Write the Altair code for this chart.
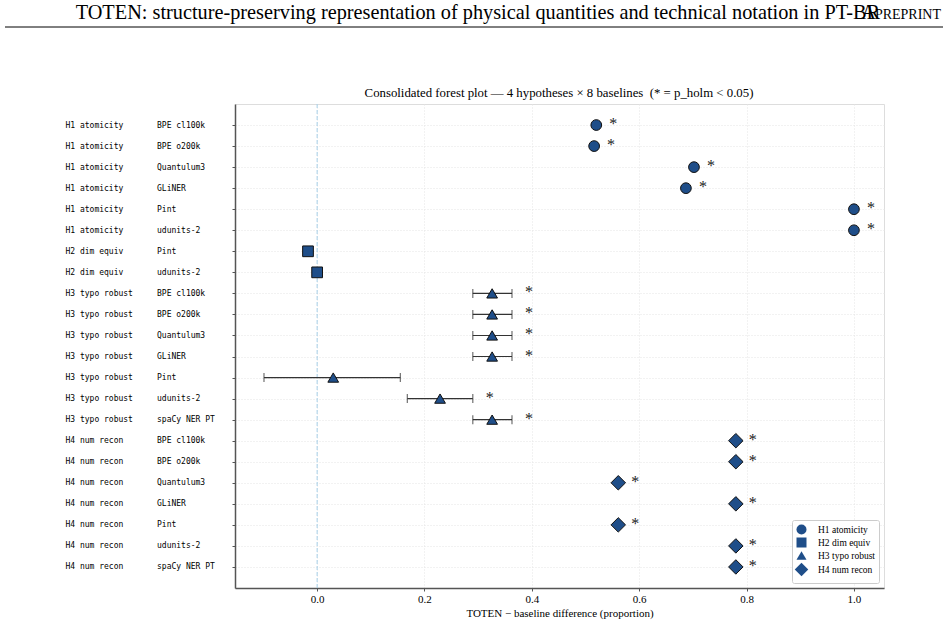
import altair as alt
import pandas as pd

hyp_names = ["H1 atomicity", "H2 dim equiv", "H3 typo robust", "H4 num recon"]

hypothesis = (["H1 atomicity"] * 6 + ["H2 dim equiv"] * 2 +
              ["H3 typo robust"] * 7 + ["H4 num recon"] * 7)
baseline = ["BPE cl100k", "BPE o200k", "Quantulum3", "GLiNER", "Pint", "udunits-2",
            "Pint", "udunits-2",
            "BPE cl100k", "BPE o200k", "Quantulum3", "GLiNER", "Pint", "udunits-2", "spaCy NER PT",
            "BPE cl100k", "BPE o200k", "Quantulum3", "GLiNER", "Pint", "udunits-2", "spaCy NER PT"]
estimate = [0.520, 0.516, 0.702, 0.687, 1.000, 1.000,
            -0.017, 0.000,
            0.326, 0.326, 0.326, 0.326, 0.030, 0.229, 0.326,
            0.780, 0.780, 0.561, 0.780, 0.561, 0.780, 0.780]
ci_low = [None] * 8 + [0.290, 0.290, 0.290, 0.290, -0.099, 0.168, 0.290] + [None] * 7
ci_high = [None] * 8 + [0.363, 0.363, 0.363, 0.363, 0.155, 0.290, 0.363] + [None] * 7
significant = [True] * 6 + [False] * 2 + [True, True, True, True, False, True, True] + [True] * 7

NB = "\u00a0"
labels = [h + NB * (19 - len(h)) + b for h, b in zip(hypothesis, baseline)]

df = pd.DataFrame({
    "hyp": hypothesis, "baseline": baseline, "label": labels,
    "est": estimate, "lo": ci_low, "hi": ci_high, "sig": significant,
})
df["star_x"] = [h if h is not None and not pd.isna(h) else e for h, e in zip(df["hi"], df["est"])]

W, H = 649, 484
PL, PT = 235, 104
SERIF = "Liberation Serif"
MARK = "#1f4e89"
BIG_DIAMOND = "M-1.35,0L0,-1.35L1.35,0L0,1.35Z"

xscale = alt.Scale(domain=[-0.153, 1.056], nice=False, zero=False)
yenc = alt.Y("label:N", sort=labels, scale=alt.Scale(type="point", padding=1),
             axis=alt.Axis(title=None, labelFont="DejaVu Sans Mono", labelFontSize=8,
                           labelColor="black", labelAlign="left", labelPadding=167,
                           tickSize=3, tickColor="#555", domainColor="#555", domainWidth=1.5,
                           grid=True, gridColor="#e4e4e4", gridDash=[1, 2], gridWidth=1))
xenc = alt.X("est:Q", scale=xscale,
             axis=alt.Axis(title="TOTEN \u2212 baseline difference (proportion)",
                           values=[0, 0.2, 0.4, 0.6, 0.8, 1.0], format=".1f",
                           labelFont=SERIF, labelFontSize=11, labelColor="black",
                           titleFont=SERIF, titleFontSize=11, titleFontWeight="normal",
                           titleColor="black", titlePadding=3, tickSize=3, tickColor="#555",
                           domainColor="#555", domainWidth=1.5,
                           grid=True, gridColor="#e4e4e4", gridDash=[1, 2], gridWidth=1))

base = alt.Chart(df)

zero = alt.Chart(pd.DataFrame({"z": [0.0]})).mark_rule(
    color="#a6cfe8", strokeDash=[4, 2], strokeWidth=1).encode(x=alt.X("z:Q", scale=xscale))

ci = base.transform_filter("isValid(datum.lo)")
ci_rule = ci.mark_rule(color="#333333", strokeWidth=1.2).encode(
    x=alt.X("lo:Q", scale=xscale), x2="hi:Q", y=yenc)
cap_lo = ci.mark_tick(color="#333333", thickness=1.2, size=9).encode(
    x=alt.X("lo:Q", scale=xscale), y=yenc)
cap_hi = ci.mark_tick(color="#333333", thickness=1.2, size=9).encode(
    x=alt.X("hi:Q", scale=xscale), y=yenc)

points = base.mark_point(filled=True, fill=MARK, stroke="#111111", strokeWidth=1,
                         opacity=1, size=115).encode(
    x=xenc, y=yenc,
    shape=alt.Shape(
        "hyp:N",
        scale=alt.Scale(domain=hyp_names, range=["circle", "square", "triangle-up", BIG_DIAMOND]),
        legend=alt.Legend(title=None, orient="bottom-right", offset=5,
                          fillColor="white", strokeColor="#cccccc", padding=4,
                          cornerRadius=2, labelFont=SERIF, labelFontSize=9.5,
                          labelColor="black", symbolSize=100, labelOffset=11,
                          symbolFillColor=MARK, symbolStrokeColor="#111111",
                          symbolStrokeWidth=1, rowPadding=-2)),
)

stars = base.transform_filter("datum.sig").mark_text(
    text="*", font=SERIF, fontSize=16, dx=17, dy=-1, align="center", baseline="middle",
    color="#1a1a1a").encode(x=alt.X("star_x:Q", scale=xscale), y=yenc)

header_df = pd.DataFrame({"t": ["x"]})


def fixed_text(txt, x, y, size, align="left", baseline="alphabetic"):
    return alt.Chart(header_df).mark_text(
        text=txt, font=SERIF, fontSize=size, align=align, baseline=baseline,
        color="black").encode(x=alt.value(x - PL), y=alt.value(y - PT))


header = fixed_text("TOTEN: structure-preserving representation of physical quantities and "
                    "technical notation in PT-BR", 880, 19, 20.3, align="right")
header_a = fixed_text("A", 876, 19, 20.3, align="right")
header_pp = fixed_text("PREPRINT", 941, 19, 14, align="right")
header_line = alt.Chart(header_df).mark_rule(color="black", strokeWidth=1).encode(
    x=alt.value(5 - PL), x2=alt.value(943 - PL), y=alt.value(27 - PT))
title = fixed_text("Consolidated forest plot \u2014 4 hypotheses \u00d7 8 baselines"
                   "\u00a0\u00a0(* = p_holm < 0.05)", 559, 97, 12.8, align="center")

chart = alt.layer(zero, ci_rule, cap_lo, cap_hi, points, stars,
                  header, header_a, header_pp, header_line, title).properties(
    width=W, height=H,
    autosize=alt.AutoSizeParams(type="none"),
    padding={"left": PL, "top": PT, "right": 948 - PL - W, "bottom": 627 - PT - H},
).configure_view(stroke=None).configure(background="white")

chart.save("out.html", embed_options={"renderer": "svg", "actions": False})
